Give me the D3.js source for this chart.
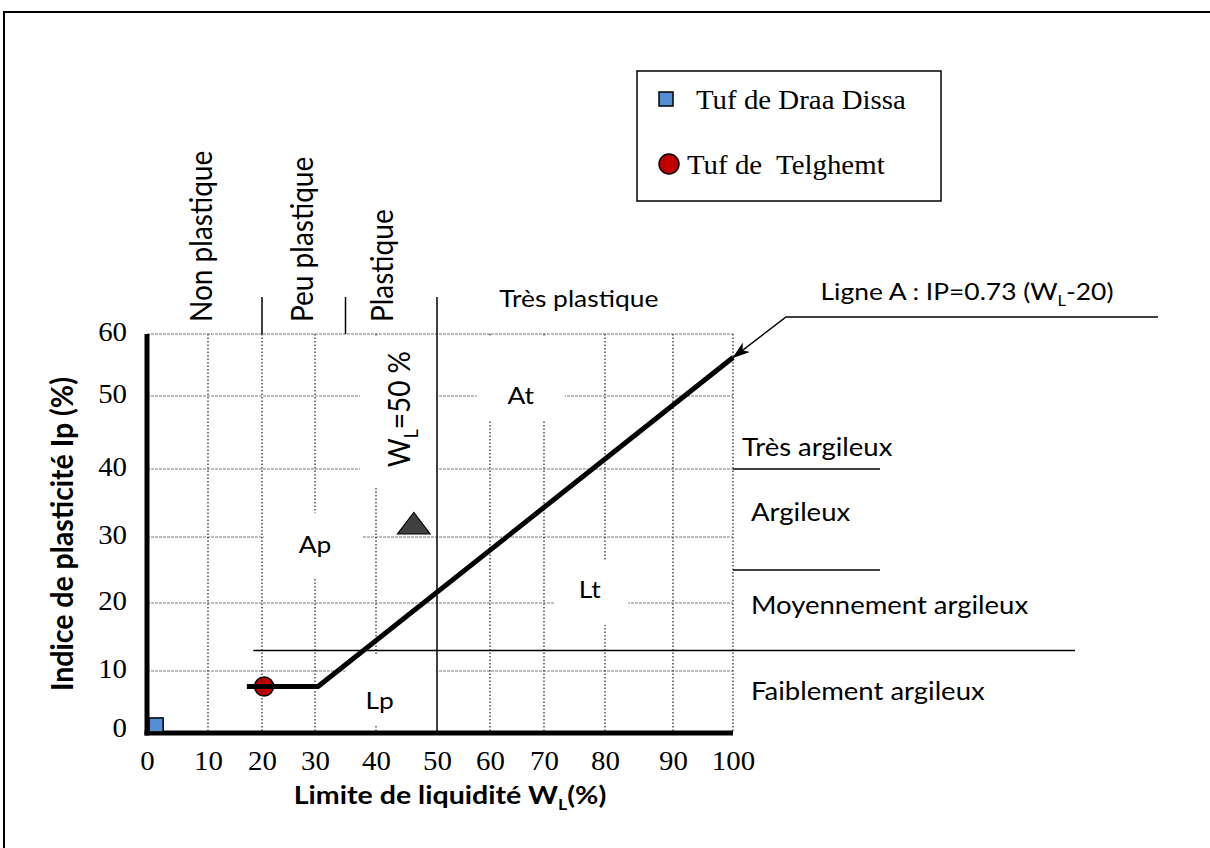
<!DOCTYPE html>
<html><head><meta charset="utf-8">
<script src="https://cdn.jsdelivr.net/npm/d3@7"></script>
<style>body{margin:0;background:#fff}svg{display:block}</style>
</head><body>
<script>
// ---------------- data ----------------
const xTickValues = [0, 10, 20, 30, 40, 50, 60, 70, 80, 90, 100];
const yTickValues = [0, 10, 20, 30, 40, 50, 60];
const draaDissaWL = [1.5];
const draaDissaIP = [1.3];
const telghemtWL = [20.4];
const telghemtIP = [7.5];
const triangleWL = [46.2];
const triangleIP = [31.5];
const lineAWL = [17.2, 30.5, 100];
const lineAIP = [7.5, 7.5, 56.2];
const plasticityBounds = [20, 35, 50];
const clayBounds = [40, 25, 13];
const plasticityLabels = ["Non plastique", "Peu plastique", "Plastique", "Très plastique"];
const plasticityLabelWL = [8.9, 27.5, 41, 75.7];
const clayLabels = ["Très argileux", "Argileux", "Moyennement argileux", "Faiblement argileux"];
const clayLabelIP = [43, 33.7, 19.7, 6.7];
const zoneLabels = ["At", "Ap", "Lt", "Lp"];
const zoneLabelWL = [65.7, 30, 77.5, 40.6];
const zoneLabelIP = [50, 28.8, 22, 5.3];
const legendLabels = ["Tuf de Draa Dissa", "Tuf de  Telghemt"];

// ---------------- layout ----------------
const W = 1210, H = 848;
const xTickPx = [147, 208, 262, 315, 376, 437, 490, 544, 605, 673, 733];
const yTickPx = [733, 671, 603, 537, 469, 396, 334];
const SERIF = "'Liberation Serif','Times New Roman',serif";
const SANS = "Lato,'Noto Sans',sans-serif";
// white text boxes (data units)
const boxWL0 = [57.5, 37.4, 20.4, 71.8, 35];
const boxWL1 = [73.4, 50, 37.7, 83.4, 50];
const boxIP0 = [46.6, 37.2, 23.8, 16.8, 1.3];
const boxIP1 = [59.7, 59.7, 33.5, 26.5, 12.3];

const x = d3.scaleLinear().domain(xTickValues).range(xTickPx);
const y = d3.scaleLinear().domain(yTickValues).range(yTickPx);

const svg = d3.select("body").append("svg").attr("width", W).attr("height", H);
svg.append("rect").attr("width", W).attr("height", H).attr("fill", "#fff");

function addText(parent, px, py, segs, o) {
  const size = o.size;
  const t = parent.append("text")
    .attr("transform", `translate(${px},${py}) scale(${o.sx || 1},1)` + (o.rot ? ` rotate(${o.rot})` : ""))
    .attr("font-family", o.family)
    .attr("font-size", size)
    .attr("font-weight", o.weight || "normal")
    .attr("text-anchor", o.anchor || "start")
    .attr("dy", (o.dy != null ? o.dy : 0.35) + "em")
    .attr("fill", "#000")
    .style("white-space", "pre");
  if (typeof segs === "string") segs = [{ t: segs }];
  let prevSub = false;
  segs.forEach((s) => {
    const ts = t.append("tspan").text(s.t);
    if (s.sub) { ts.attr("font-size", size * 0.62).attr("dy", size * 0.25); prevSub = true; }
    else if (prevSub) { ts.attr("dy", -size * 0.25); prevSub = false; }
  });
  return t;
}

// outer frame (only top and left visible)
svg.append("path").attr("d", `M4,${H} V12 H${W}`).attr("fill", "none")
  .attr("stroke", "#000").attr("stroke-width", 2);

// ---- Telghemt point (under grid) ----
svg.append("g").selectAll("circle").data(telghemtWL).join("circle")
  .attr("cx", (d) => x(d)).attr("cy", (d, i) => y(telghemtIP[i])).attr("r", 9.5)
  .attr("fill", "#C00000").attr("stroke", "#000").attr("stroke-width", 1.5);

// ---- grid ----
const grid = svg.append("g");
grid.selectAll("line.h").data(yTickValues.filter(v => v > 0)).join("line")
  .attr("x1", x(0)).attr("x2", x(100)).attr("y1", d => y(d)).attr("y2", d => y(d))
  .attr("stroke", "#7a7a7a").attr("stroke-width", 1).attr("stroke-dasharray", "3,1");
grid.selectAll("line.v").data(xTickValues.filter(v => v > 0 && v !== 50)).join("line")
  .attr("x1", d => x(d)).attr("x2", d => x(d)).attr("y1", y(60)).attr("y2", y(0))
  .attr("stroke", "#222").attr("stroke-width", 1.2).attr("stroke-dasharray", "1.5,2");

// ---- white text boxes ----
svg.append("g").selectAll("rect").data(boxWL0).join("rect")
  .attr("x", d => x(d)).attr("width", (d, i) => x(boxWL1[i]) - x(d))
  .attr("y", (d, i) => y(boxIP1[i])).attr("height", (d, i) => y(boxIP0[i]) - y(boxIP1[i]))
  .attr("fill", "#fff");

// ---- boundary lines ----
const bnd = svg.append("g").attr("stroke", "#000").attr("stroke-width", 1.5);
const topY = 297;
plasticityBounds.forEach(v => {
  bnd.append("line").attr("x1", x(v)).attr("x2", x(v)).attr("y1", topY)
    .attr("y2", v === 50 ? y(0) : y(60));
});
bnd.append("line").attr("x1", x(100)).attr("x2", 880).attr("y1", y(clayBounds[0])).attr("y2", y(clayBounds[0]));
bnd.append("line").attr("x1", x(100)).attr("x2", 880).attr("y1", y(clayBounds[1])).attr("y2", y(clayBounds[1]));
bnd.append("line").attr("x1", x(18.4)).attr("x2", 1075).attr("y1", y(clayBounds[2])).attr("y2", y(clayBounds[2]));

// ---- axes lines (thick) ----
svg.append("line").attr("x1", x(0)).attr("x2", x(0)).attr("y1", y(60)).attr("y2", y(0) + 2.5)
  .attr("stroke", "#000").attr("stroke-width", 5);
svg.append("line").attr("x1", x(0) - 2.5).attr("x2", x(100)).attr("y1", y(0)).attr("y2", y(0))
  .attr("stroke", "#000").attr("stroke-width", 5);

// ---- Ligne A ----
const lineGen = d3.line().x(d => x(d[0])).y(d => y(d[1]));
svg.append("path").datum(lineAWL.map((v, i) => [v, lineAIP[i]]))
  .attr("d", lineGen).attr("fill", "none").attr("stroke", "#000").attr("stroke-width", 5)
  .attr("stroke-linejoin", "miter");

// ---- other points ----
const tri = d3.symbol().type(d3.symbolTriangle).size(300);
svg.append("g").selectAll("path").data(triangleWL).join("path")
  .attr("d", tri).attr("transform", (d, i) => `translate(${x(d)},${y(triangleIP[i])}) scale(1.25,0.95)`)
  .attr("fill", "#404040").attr("stroke", "#000").attr("stroke-width", 1);
svg.append("g").selectAll("rect").data(draaDissaWL).join("rect")
  .attr("x", d => x(d) - 7).attr("y", (d, i) => y(draaDissaIP[i]) - 7)
  .attr("width", 14).attr("height", 14)
  .attr("fill", "#558ED5").attr("stroke", "#000").attr("stroke-width", 1.5);

// ---- axes tick labels ----
const TSX = 1.09;
const xAxis = svg.append("g").attr("transform", `translate(0,${y(0)})`)
  .call(d3.axisBottom(x).tickValues(xTickValues).tickSize(0).tickFormat(d3.format("d")));
xAxis.select(".domain").remove();
xAxis.selectAll("text").attr("y", 28).attr("dy", "0.35em")
  .attr("font-family", SERIF).attr("font-size", 26.5).attr("fill", "#000")
  .attr("transform", `scale(${TSX},1)`);
const yAxis = svg.append("g").attr("transform", `translate(${x(0)},0)`)
  .call(d3.axisLeft(y).tickValues(yTickValues).tickSize(0).tickFormat(d3.format("d")));
yAxis.select(".domain").remove();
yAxis.selectAll("text").attr("x", -20 / TSX).attr("dy", "0.35em")
  .attr("y", d => (d === 0 ? -6 : -3))
  .attr("font-family", SERIF).attr("font-size", 26.5).attr("fill", "#000")
  .attr("transform", `scale(${TSX},1)`);

// ---- axis titles ----
addText(svg, 450, 795, [{ t: "Limite de liquidité W" }, { t: "L", sub: true }, { t: "(%)" }],
  { family: SANS, size: 25.5, weight: "bold", anchor: "middle", sx: 1.12 });
addText(svg, 62, 534, "Indice de plasticité Ip (%)",
  { family: SANS, size: 28.5, weight: "bold", anchor: "middle", sx: 1.1, rot: -90 });

// ---- plasticity labels (top) ----
plasticityLabels.forEach((s, i) => {
  if (i < 3) addText(svg, x(plasticityLabelWL[i]), 322, s, { family: SANS, size: 28, anchor: "start", sx: 1.1, rot: -90 });
  else addText(svg, x(plasticityLabelWL[i]), 299, s, { family: SANS, size: 24, anchor: "middle", sx: 1.1 });
});
// ---- clay labels (right) ----
clayLabels.forEach((s, i) => {
  addText(svg, i === 0 ? 742 : 751, y(clayLabelIP[i]), s, { family: SANS, size: 25, anchor: "start", sx: 1.1 });
});
// ---- zone labels ----
zoneLabels.forEach((s, i) => {
  addText(svg, x(zoneLabelWL[i]), y(zoneLabelIP[i]), s, { family: SANS, size: 24, anchor: "middle", sx: 1.1 });
});
// W_L = 50 %
addText(svg, x(43.8), y(48.2), [{ t: "W" }, { t: "L", sub: true }, { t: "=50 %" }],
  { family: SANS, size: 28, anchor: "middle", sx: 1.1, rot: -90 });

// ---- Ligne A annotation ----
const defs = svg.append("defs");
defs.append("marker").attr("id", "arr").attr("viewBox", "0 0 18 12").attr("refX", 17).attr("refY", 6)
  .attr("markerWidth", 18).attr("markerHeight", 12).attr("markerUnits", "userSpaceOnUse").attr("orient", "auto")
  .append("path").attr("d", "M0,0 L18,6 L0,12 L5,6 Z").attr("fill", "#000");
svg.append("path")
  .attr("d", `M1158,317 H786 L${x(100)},${y(lineAIP[2])}`)
  .attr("fill", "none").attr("stroke", "#000").attr("stroke-width", 1.5).attr("marker-end", "url(#arr)");
addText(svg, 967, 292, [{ t: "Ligne A : IP=0.73 (W" }, { t: "L", sub: true }, { t: "-20)" }],
  { family: SANS, size: 24, anchor: "middle", sx: 1.1 });

// ---- legend ----
const lg = svg.append("g");
lg.append("rect").attr("x", 637).attr("y", 71).attr("width", 304).attr("height", 130)
  .attr("fill", "#fff").attr("stroke", "#000").attr("stroke-width", 1.5);
lg.append("rect").attr("x", 659).attr("y", 92).attr("width", 14).attr("height", 14)
  .attr("fill", "#558ED5").attr("stroke", "#000").attr("stroke-width", 1.5);
lg.append("circle").attr("cx", 669).attr("cy", 164).attr("r", 10)
  .attr("fill", "#C00000").attr("stroke", "#000").attr("stroke-width", 1.5);
addText(lg, 696, 100, legendLabels[0], { family: SERIF, size: 26.5, anchor: "start", sx: 1.09 });
addText(lg, 687, 165, legendLabels[1], { family: SERIF, size: 26.5, anchor: "start", sx: 1.09 });
</script>
</body></html>
